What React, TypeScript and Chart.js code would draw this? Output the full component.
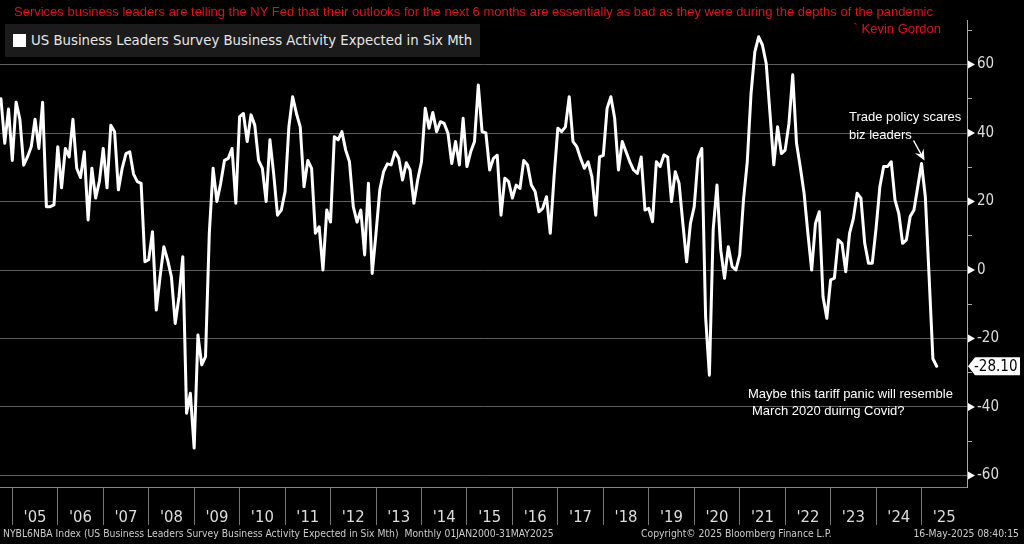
import React, { useEffect, useRef } from "react";
import { Chart, registerables } from "chart.js";

Chart.register(...registerables);

// ---- data (monthly, Oct 2004 .. May 2025) ----
const FIRST_YEAR = 2004;
const FIRST_MONTH = 10; // October 2004
const values2004 = [50, 37, 47];
const values2005 = [32, 49, 44, 30.6, 33, 36, 44, 35.5, 49, 18.5, 18.5, 19];
const values2006 = [36, 24, 35.5, 33, 44, 29.7, 27, 34.5, 14.6, 29.7, 21, 26];
const values2007 = [35.5, 24, 42.3, 40.4, 23.4, 29.7, 34, 34.5, 28, 25.8, 25.3, 2.4];
const values2008 = [3, 11.2, -11.7, -2, 6.8, 2.9, -2, -15.6, -7.8, 3.9, -41.8, -36];
const values2009 = [-52, -19, -27.7, -25.3, 10.7, 29.7, 20, 25.3, 32, 32.6, 35.5, 19.5];
const values2010 = [44.8, 45.7, 37.5, 45.3, 42.3, 32, 29.7, 20, 38, 28, 16, 17.5];
const values2011 = [22.9, 41.8, 50.6, 45.7, 41.8, 24.3, 32, 29.7, 10.7, 12.6, 0, 17.5];
const values2012 = [14, 38.9, 38, 40.4, 35, 31.6, 18.5, 14, 17.5, 4.4, 25.3, -1];
const values2013 = [10.7, 23.4, 28.7, 31, 30.7, 34.5, 32.6, 26.3, 31.3, 29.2, 19.5, 26.3];
const values2014 = [31.6, 47.2, 41.4, 46, 40.4, 43.3, 42.8, 39.9, 31.1, 37.5, 30.7, 44.3];
const values2015 = [30.2, 34.5, 37.5, 54, 40.4, 40, 29.2, 32.6, 33.5, 16, 26.8, 25.8];
const values2016 = [21, 24.8, 23.8, 32, 30.7, 24.8, 22.9, 17, 18, 21.4, 10.7, 27.2];
const values2017 = [41.4, 40.4, 41.8, 50.6, 37.5, 36, 32.6, 29.7, 31.6, 27.2, 16, 33];
const values2018 = [33.5, 47.2, 50.6, 44.3, 29.2, 37.5, 34.5, 31.6, 29.2, 28.2, 33, 17.5];
const values2019 = [18, 14.1, 31.6, 30.2, 33.6, 33, 20, 28.7, 25.3, 13.6, 2.4, 13.6];
const values2020 = [18.5, 32.6, 35.5, -13.6, -30.7, 11.7, 24.8, 5.8, -2.4, 6.8, 1, 0];
const values2021 = [4.4, 20.4, 31.6, 51.6, 63.7, 68.1, 65.7, 60.3, 45.7, 30.7, 41.8, 34];
const values2022 = [35, 42.8, 57, 37, 30, 22.4, 10.7, 0, 13.6, 17, -7.8, -14.1];
const values2023 = [-2.9, -2.4, 8.8, 7.8, -0.5, 10.7, 15, 22.4, 21, 7.8, 2, 2];
const values2024 = [12.2, 24.3, 30.2, 30.2, 31.6, 20.4, 16.5, 7.8, 8.8, 15.6, 17.5, 24.3];
const values2025 = [31.1, 21.4, -2, -25.9, -28.1];

const allValues = [
  ...values2004, ...values2005, ...values2006, ...values2007, ...values2008,
  ...values2009, ...values2010, ...values2011, ...values2012, ...values2013,
  ...values2014, ...values2015, ...values2016, ...values2017, ...values2018,
  ...values2019, ...values2020, ...values2021, ...values2022, ...values2023,
  ...values2024, ...values2025,
];

const axisYears = [2005, 2006, 2007, 2008, 2009, 2010, 2011, 2012, 2013, 2014, 2015, 2016, 2017, 2018, 2019, 2020, 2021, 2022, 2023, 2024, 2025];
const yearLabels = ["'05", "'06", "'07", "'08", "'09", "'10", "'11", "'12", "'13", "'14", "'15", "'16", "'17", "'18", "'19", "'20", "'21", "'22", "'23", "'24", "'25"];
const yTicks = [-60, -50, -40, -30, -20, -10, 0, 10, 20, 30, 40, 50, 60, 70];
const yLabelled = [-60, -40, -20, 0, 20, 40, 60];
const ANNOTATED_PEAK = { year: 2025, month: 1, value: 31.1 };

const BASE_YEAR = 2005;
const monthIndex = (year: number, month: number) => (year - BASE_YEAR) * 12 + (month - 1);
const firstIndex = monthIndex(FIRST_YEAR, FIRST_MONTH);
const points = allValues.map((v, i) => ({ x: firstIndex + i, y: v }));
const lastValue = allValues[allValues.length - 1];

const NARROW = "'Liberation Sans Narrow', 'DejaVu Sans Condensed', 'Liberation Sans', sans-serif";
const SANS = "'Liberation Sans', Arial, sans-serif";

export default function App() {
  const ref = useRef<HTMLCanvasElement | null>(null);

  useEffect(() => {
    if (!ref.current) return;
    const boundaryTicks = axisYears.map((y) => monthIndex(y, 1));
    const labelTicks = axisYears.map((y) => monthIndex(y, 7));

    const overlay = {
      id: "overlay",
      afterDraw(chart: any) {
        const ctx = chart.ctx as CanvasRenderingContext2D;
        const ys = chart.scales.y;
        const xs = chart.scales.x;
        ctx.save();
        // axis triangles
        ctx.fillStyle = "#ffffff";
        for (const v of yLabelled) {
          const py = ys.getPixelForValue(v);
          ctx.beginPath();
          ctx.moveTo(ys.left + 1, py - 4);
          ctx.lineTo(ys.left + 1, py + 4);
          ctx.lineTo(ys.left + 8, py);
          ctx.closePath();
          ctx.fill();
        }
        // last value tag
        const ty = ys.getPixelForValue(lastValue);
        const tx = ys.left + 1;
        ctx.fillStyle = "#ffffff";
        ctx.beginPath();
        ctx.moveTo(tx, ty);
        ctx.lineTo(tx + 7, ty - 9);
        ctx.lineTo(1020, ty - 9);
        ctx.lineTo(1020, ty + 9);
        ctx.lineTo(tx + 7, ty + 9);
        ctx.closePath();
        ctx.fill();
        ctx.fillStyle = "#000000";
        ctx.font = `15px ${NARROW}`;
        ctx.textBaseline = "middle";
        ctx.textAlign = "left";
        ctx.fillText(lastValue.toFixed(2), tx + 6, ty + 1);
        // arrow to peak
        const pxp = xs.getPixelForValue(monthIndex(ANNOTATED_PEAK.year, ANNOTATED_PEAK.month)) + 3;
        const pyp = ys.getPixelForValue(ANNOTATED_PEAK.value) - 3;
        const sx = pxp - 11;
        const sy = pyp - 20;
        const ang = Math.atan2(pyp - sy, pxp - sx);
        ctx.strokeStyle = "#ffffff";
        ctx.lineWidth = 1.5;
        ctx.beginPath();
        ctx.moveTo(sx, sy);
        ctx.lineTo(pxp - 6 * Math.cos(ang), pyp - 6 * Math.sin(ang));
        ctx.stroke();
        ctx.beginPath();
        ctx.moveTo(pxp, pyp);
        ctx.lineTo(pxp - 11 * Math.cos(ang) + 5 * Math.sin(ang), pyp - 11 * Math.sin(ang) - 5 * Math.cos(ang));
        ctx.lineTo(pxp - 7 * Math.cos(ang), pyp - 7 * Math.sin(ang));
        ctx.lineTo(pxp - 11 * Math.cos(ang) - 5 * Math.sin(ang), pyp - 11 * Math.sin(ang) + 5 * Math.cos(ang));
        ctx.closePath();
        ctx.fillStyle = "#ffffff";
        ctx.fill();
        ctx.restore();
      },
    };

    const chart = new Chart(ref.current, {
      type: "line",
      data: {
        datasets: [
          {
            data: points,
            borderColor: "#ffffff",
            borderWidth: 3,
            pointRadius: 0,
            tension: 0,
            borderJoinStyle: "round",
            borderCapStyle: "round",
            fill: false,
          },
        ],
      },
      options: {
        animation: false,
        responsive: false,
        events: [],
        layout: { padding: { top: 20, left: 0, right: 0, bottom: 0 } },
        plugins: { legend: { display: false }, tooltip: { enabled: false }, title: { display: false } },
        scales: {
          x: {
            type: "linear",
            position: "bottom",
            min: -3.25,
            max: 252,
            afterBuildTicks: (scale: any) => {
              scale.ticks = [...boundaryTicks, ...labelTicks].sort((a, b) => a - b).map((v) => ({ value: v }));
            },
            afterFit: (scale: any) => {
              scale.height = 57;
            },
            ticks: {
              autoSkip: false,
              maxRotation: 0,
              minRotation: 0,
              padding: -17,
              color: "#dddddd",
              font: { family: NARROW, size: 16.5 },
              callback: (value: any) => {
                const idx = labelTicks.indexOf(Number(value));
                return idx >= 0 ? yearLabels[idx] : "";
              },
            },
            grid: {
              drawOnChartArea: false,
              drawTicks: true,
              tickLength: 38,
              color: (ctx: any) => (labelTicks.includes(ctx.tick?.value) ? "rgba(0,0,0,0)" : "#777777"),
              lineWidth: 1,
            },
            border: { display: true, color: "#888888", width: 1 },
          },
          y: {
            type: "linear",
            position: "right",
            min: -63.36,
            max: 73,
            afterBuildTicks: (scale: any) => {
              scale.ticks = yTicks.map((v) => ({ value: v }));
            },
            afterFit: (scale: any) => {
              scale.width = 57;
            },
            ticks: {
              padding: 5,
              color: "#dddddd",
              font: { family: NARROW, size: 15 },
              callback: (value: any) => (yLabelled.includes(Number(value)) ? String(value) : ""),
            },
            grid: {
              drawTicks: true,
              tickLength: 5,
              color: (ctx: any) => (yLabelled.includes(ctx.tick?.value) ? "#5e5e5e" : "rgba(0,0,0,0)"),
              tickColor: (ctx: any) => (yLabelled.includes(ctx.tick?.value) ? "rgba(0,0,0,0)" : "#aaaaaa"),
              lineWidth: 1,
            },
            border: { display: true, color: "#aaaaaa", width: 1 },
          },
        },
      },
      plugins: [overlay],
    } as any);

    return () => chart.destroy();
  }, []);

  const abs = (s: React.CSSProperties): React.CSSProperties => ({ position: "absolute", whiteSpace: "nowrap", margin: 0, ...s });

  return (
    <div style={{ position: "fixed", left: 0, top: 0, width: 1024, height: 544, background: "#000", overflow: "hidden" }}>
      <canvas ref={ref} width={1024} height={544} style={{ position: "absolute", left: 0, top: 0, width: 1024, height: 544 }} />
      <div style={abs({ left: 14, top: 4, color: "#e3101a", font: `13px ${SANS}`, lineHeight: "16px" })}>
        Services business leaders are telling the NY Fed that their outlooks for the next 6 months are essentially as bad as they were during the depths of the pandemic
      </div>
      <div style={abs({ right: 83, top: 21, color: "#e3101a", font: `13px ${SANS}`, lineHeight: "16px", textAlign: "right" })}>
        ` Kevin Gordon
      </div>
      <div style={abs({ left: 5, top: 24, width: 475, height: 33, background: "#1b1b1b" })} />
      <div style={abs({ left: 13, top: 34, width: 13, height: 13, background: "#ffffff" })} />
      <div style={abs({ left: 31, top: 32, color: "#e6e6e6", font: `13.3px 'DejaVu Sans', sans-serif`, lineHeight: "18px" })}>
        US Business Leaders Survey Business Activity Expected in Six Mth
      </div>
      <div style={abs({ left: 849, top: 108, color: "#ffffff", font: `13px ${SANS}`, lineHeight: "18px" })}>
        Trade policy scares
        <br />
        biz leaders
      </div>
      <div style={abs({ left: 748, top: 385, color: "#ffffff", font: `13px ${SANS}`, lineHeight: "17px" })}>
        Maybe this tariff panic will resemble
        <br />
        <span style={{ paddingLeft: 4 }}>March 2020 duirng Covid?</span>
      </div>
      <div style={abs({ left: 3, top: 526, color: "#cccccc", font: `10.3px ${NARROW}`, lineHeight: "14px" })}>
        NYBL6NBA Index (US Business Leaders Survey Business Activity Expected in Six Mth)&nbsp; Monthly 01JAN2000-31MAY2025
      </div>
      <div style={abs({ left: 641, top: 526, color: "#cccccc", font: `10.3px ${NARROW}`, lineHeight: "14px" })}>
        Copyright© 2025 Bloomberg Finance L.P.
      </div>
      <div style={abs({ right: 5, top: 526, color: "#cccccc", font: `10.3px ${NARROW}`, lineHeight: "14px", textAlign: "right" })}>
        16-May-2025 08:40:15
      </div>
    </div>
  );
}
